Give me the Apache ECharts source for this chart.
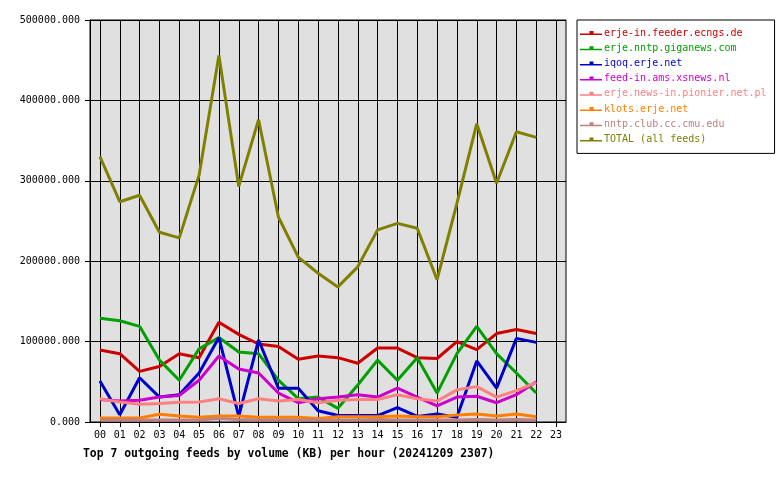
<!DOCTYPE html>
<html>
<head>
<meta charset="utf-8">
<script src="https://cdn.jsdelivr.net/npm/echarts@6/dist/echarts.min.js"></script>
<style>html,body{margin:0;padding:0;background:#fff}#c{width:780px;height:480px}</style>
</head>
<body>
<div id="c"></div>
<script>
const hours = ['00','01','02','03','04','05','06','07','08','09','10','11','12','13','14','15','16','17','18','19','20','21','22','23'];
const feedNames = ['erje-in.feeder.ecngs.de','erje.nntp.giganews.com','iqoq.erje.net','feed-in.ams.xsnews.nl','erje.news-in.pionier.net.pl','klots.erje.net','nntp.club.cc.cmu.edu','TOTAL (all feeds)'];
const feedColors = ['#cc0000','#00a000','#0000cc','#cc00cc','#ff8080','#ff8000','#c08080','#808000'];
const ecngs    = [89600,85000,63000,69000,85000,80000,124000,109000,97000,94000,78000,82000,80000,73000,92000,92000,80000,79000,100000,90000,110000,115000,110000];
const giganews = [129000,126000,119000,77000,52000,91000,105000,87000,85000,52000,29000,31000,17000,46000,77000,52000,80000,36000,85000,119000,85000,61000,36000];
const iqoq     = [51000,9000,55000,31000,34000,61000,105000,7000,102000,42000,42000,14000,8000,8000,8000,18000,7000,10000,6000,76000,42000,104000,99000];
const xsnews   = [28000,26000,27000,31000,33000,52000,82000,66000,61000,36000,24000,29000,31000,34000,31000,42000,31000,20000,31000,32000,24000,34000,50000];
const pionier  = [29000,25000,22000,23000,24500,25000,29000,23000,29000,26000,28000,24000,27000,28000,28000,34000,29000,26000,40000,44000,31000,39000,49000];
const klots    = [5000,5000,5000,9600,7500,6000,7500,7500,6000,6000,6000,4500,6600,6600,6600,7500,6600,6600,8700,10000,7500,10000,6600];
const cmu      = [2500,2500,2500,2500,2500,2500,4500,3000,2500,2500,2500,2500,2500,2500,3000,2500,2500,2500,2500,3000,2500,3000,2500];
const total    = [330000,274000,282000,236000,229000,307000,456000,293000,376000,255000,205000,185000,168000,193000,239000,247000,241000,177000,272000,371000,297000,361000,354000];
const yTicks = {min:0, max:500000, interval:100000};

const seriesData = [ecngs, giganews, iqoq, xsnews, pionier, klots, cmu, total];
// helper half-step slots: band edges and band centres (centres at odd indices)
const halfSlots = [];
for (let i = 0; i <= hours.length * 2; i++) halfSlots.push(String(i));
const isCentre = (idx) => idx % 2 === 1;

const FONT = '"DejaVu Sans Mono", monospace';
const chart = echarts.init(document.getElementById('c'), null, {renderer:'canvas'});
chart.setOption({
  animation:false,
  backgroundColor:'#fff',
  title:{
    text:'Top 7 outgoing feeds by volume (KB) per hour (20241209 2307)',
    left:78, top:444,
    textStyle:{fontFamily:FONT, fontSize:11.4, fontWeight:'bold', color:'#000'}
  },
  legend:{
    orient:'vertical', left:577, top:20,
    padding:[7,8,8,3],
    borderColor:'#000', borderWidth:1,
    itemWidth:22, itemHeight:8, itemGap:3.2,
    icon:'path://M0 4L22 4L22 5.5L0 5.5Z M9.5 1.5L13.5 1.5L13.5 4.5L9.5 4.5Z',
    textStyle:{fontFamily:FONT, fontSize:10, lineHeight:12, padding:[0,0,0,-3]},
    data: feedNames.map((n,i)=>({name:n, textStyle:{color:feedColors[i]}}))
  },
  grid:{left:90, top:20, right:214, bottom:58, show:true, backgroundColor:'#e0e0e0', borderColor:'#000', borderWidth:1},
  xAxis:[{
    type:'category', data:hours, boundaryGap:true,
    axisLine:{lineStyle:{color:'#000', width:1}},
    axisTick:{show:false},
    splitLine:{show:false},
    axisLabel:{fontFamily:FONT, fontSize:10, color:'#000', margin:8, interval:0}
  },{
    type:'category', data:halfSlots, boundaryGap:false, position:'bottom',
    axisLine:{show:false},
    axisTick:{show:true, length:5, interval:isCentre, lineStyle:{color:'#000', width:1}},
    splitLine:{show:true, interval:isCentre, lineStyle:{color:'#000', width:1}},
    axisLabel:{show:false}
  }],
  yAxis:{
    type:'value', min:yTicks.min, max:yTicks.max, interval:yTicks.interval,
    axisLine:{show:true, lineStyle:{color:'#000'}},
    axisTick:{show:true, length:5, lineStyle:{color:'#000'}},
    splitLine:{show:true, lineStyle:{color:'#000', width:1}},
    axisLabel:{fontFamily:FONT, fontSize:10, color:'#000', margin:10, formatter:v=>v.toFixed(3)}
  },
  series: feedNames.map((n,i)=>({
    name:n, type:'line', xAxisIndex:0, data:seriesData[i], showSymbol:false, symbol:'none',
    color:feedColors[i], lineStyle:{width:3, color:feedColors[i]}
  }))
});
</script>
</body>
</html>
